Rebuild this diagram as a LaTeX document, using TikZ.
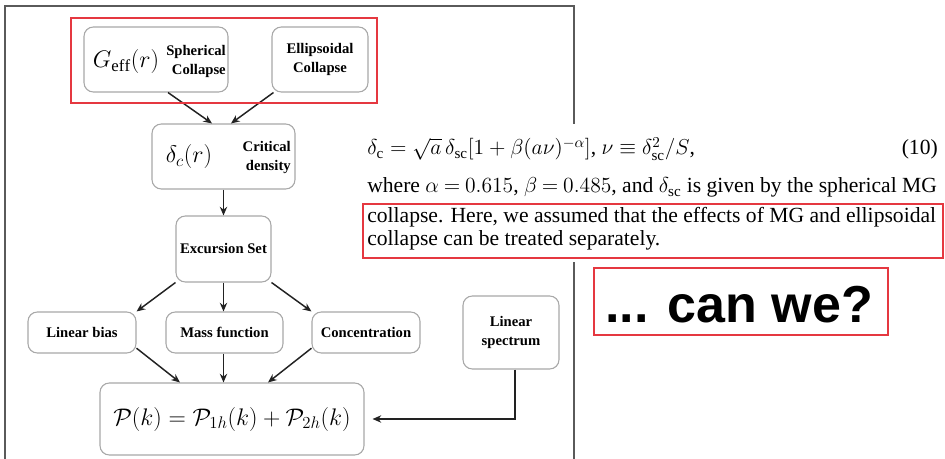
\RequirePackage{fix-cm}
\documentclass[tikz,border=0pt]{standalone}
\usepackage{fontspec}
\setmainfont{Liberation Serif}
\newfontfamily\sansbold{Liberation Sans}[BoldFont={Liberation Sans Bold}]
\usetikzlibrary{arrows.meta}
\definecolor{frame-gray}{HTML}{5A5A5A}
\definecolor{box-gray}{HTML}{A8A8A8}
\definecolor{mark-red}{HTML}{E53840}
\definecolor{ink}{HTML}{222222}

\begin{document}
\begin{tikzpicture}[x=0.75pt, y=-0.75pt,
    every node/.style={font=\fontsize{11}{14.5}\selectfont\bfseries},
    box/.style={draw=box-gray, line width=0.8pt, rounded corners=7pt,
      fill=white, inner sep=0pt, align=center},
    boxsize/.style 2 args={minimum width=#1*0.75pt, minimum height=#2*0.75pt},
    mathlbl/.style={font=\fontsize{18}{20}\selectfont, inner sep=0pt},
    link/.style={-{Stealth[length=6.5pt,width=5.5pt]}, line width=1.1pt, ink},
    redbox/.style={draw=mark-red, line width=1.5pt},
    paper/.style={font=\fontsize{16.2}{20}\selectfont, anchor=base west, inner sep=0pt}]
    \useasboundingbox (0,0) rectangle (945,459);
    % frame of the flow chart
    \draw[frame-gray, line width=1.5pt] (5,459) -- (5,6) -- (574,6) -- (574,459);
    % boxes
    \node[box, boxsize={144}{65}] (sph) at (156,59.5) {};
    \node[mathlbl] at (126,62) {$G_{\mathrm{eff}}(r)$};
    \node[anchor=east, align=right, inner sep=0pt] at (226,61.5) {Spherical\\Collapse};
    \node[box, boxsize={96}{65}] (ell) at (320,59.5) {Ellipsoidal\\Collapse};
    \node[box, boxsize={143}{65}] (crit) at (223.5,156.5) {};
    \node[mathlbl] at (189,157) {$\delta_c(r)$};
    \node[anchor=east, align=right, inner sep=0pt] at (291,157.5) {Critical\\density};
    \node[box, boxsize={95}{66}] (exc) at (223.5,249) {Excursion Set};
    \node[box, boxsize={108}{41}] (bias) at (82,332.5) {Linear bias};
    \node[box, boxsize={117}{41}] (mass) at (224.5,332.5) {Mass function};
    \node[box, boxsize={108}{41}] (conc) at (366,332.5) {Concentration};
    \node[box, boxsize={96}{73}] (lin) at (511,332.5) {Linear\\spectrum};
    \node[box, boxsize={264}{72}, font=\fontsize{18}{20}\selectfont] (pk) at (232,419)
          {$\mathcal{P}(k) = \mathcal{P}_{1h}(k) + \mathcal{P}_{2h}(k)$};
    % arrows
    \draw[link] ([xshift=9pt]sph.south) -- ([xshift=-8.6pt]crit.north);
    \draw[link] ([xshift=1.5pt]ell.south west) -- ([xshift=5.6pt]crit.north);
    \draw[link] (crit.south) -- (exc.north);
    \draw[link] (exc.south west) -- (bias.north east);
    \draw[link] (exc.south) -- (exc.south |- mass.north);
    \draw[link] (exc.south east) -- (conc.north west);
    \draw[link] ([yshift=4pt]bias.south east) -- ([xshift=-39pt]pk.north);
    \draw[link] (mass.south -| exc.south) -- (exc.south |- pk.north);
    \draw[link] ([yshift=4pt]conc.south west) -- ([xshift=27pt]pk.north);
    \draw[link] ([xshift=3pt]lin.south) |- ([xshift=6pt]pk.east);
    \draw[redbox] (71,18) rectangle (377,103);
    % text from the paper
    \fill[white] (358,124) rectangle (945,262);
    \node[paper] (eq) at (367,155)
          {$\delta_{\mathrm{c}} = \sqrt{a}\,\delta_{\mathrm{sc}}[1+\beta(a\nu)^{-\alpha}]$, $\nu\equiv\delta_{\mathrm{sc}}^{2}/S$,};
    \node[paper, anchor=base east] (eqnum) at (938,155) {(10)};
    \node[paper] (where) at (367,193)
          {\thickmuskip=4mu where $\alpha=0.615$, $\beta=0.485$, and $\delta_{\mathrm{sc}}$ is given by the spherical MG};
    \node[paper] (line1) at (367,223)
          {collapse. Here, we assumed that the effects of MG and ellipsoidal};
    \node[paper] (line2) at (367,246)
          {collapse can be treated separately.};
    \draw[redbox] (363,204) rectangle (943,258);
    \node[font=\sansbold\bfseries\fontsize{39}{40}\selectfont, anchor=base west, inner sep=0pt]
          (canwe) at (605,323) {... can we?};
    \draw[redbox] (594,268) rectangle (888,335);
  \end{tikzpicture}
\end{document}
